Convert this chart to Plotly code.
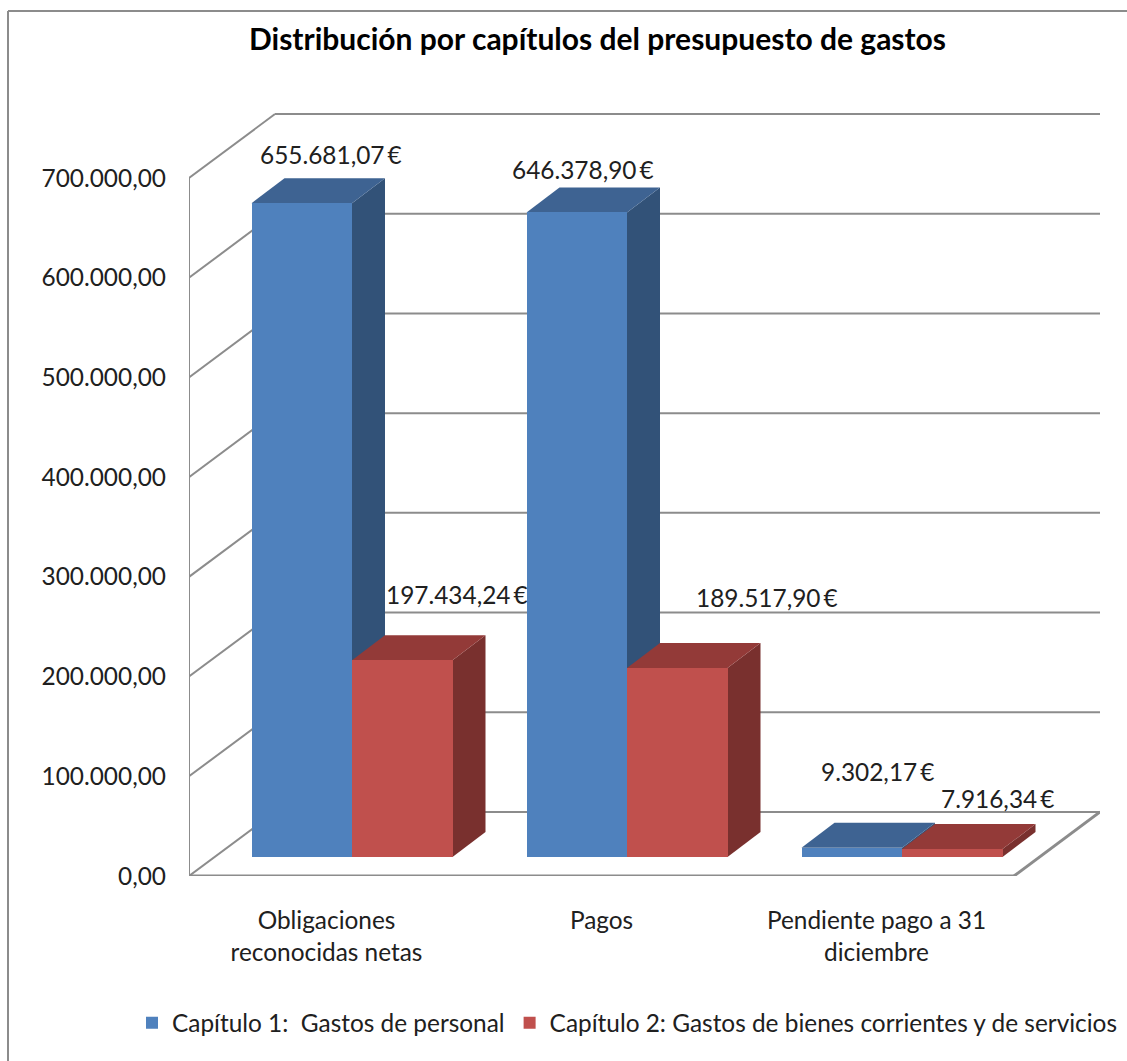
import plotly.graph_objects as go

# ---- data ----
categories = ["Obligaciones<br>reconocidas netas", "Pagos", "Pendiente pago a 31<br>diciembre"]
capitulo1 = [655681.07, 646378.90, 9302.17]
capitulo2 = [197434.24, 189517.90, 7916.34]
labels1 = ["655.681,07\u2009€", "646.378,90\u2009€", "9.302,17\u2009€"]
labels2 = ["197.434,24\u2009€", "189.517,90\u2009€", "7.916,34\u2009€"]
series_names = ["Capítulo 1:  Gastos de personal", "Capítulo 2: Gastos de bienes corrientes y de servicios"]
y_ticks = [0, 100000, 200000, 300000, 400000, 500000, 600000, 700000]
y_ticktext = ["0,00", "100.000,00", "200.000,00", "300.000,00", "400.000,00", "500.000,00", "600.000,00", "700.000,00"]
title_text = "Distribución por capítulos del presupuesto de gastos"

# ---- geometry / style ----
W, H = 1127, 1061
PX_X = 275.0                  # pixels per category
VPP = 700000 / 698.0          # value per pixel
L, R, B, T = 189, 1100, 876, 113
xmin = (L - 326.5) / PX_X
xmax = (R - 326.5) / PX_X
ymax = (B - T) * VPP
def dx(px): return px / PX_X
def dy(px): return px * VPP

FLOOR_DX, FLOOR_DY = dx(86), dy(64)
BAR_W = dx(100.5)
BAR_SHIFT = dx(25.5)
BAR_BASE = dy(19)
DEPTH_X, DEPTH_Y = dx(33), dy(25)
GRID = "#8c8c8c"
FONT = "Lato"
FS = 24.4
TXT = "#202020"
COL1 = dict(front="#4F81BD", side="#325278", top="#3E6392")
COL2 = dict(front="#C0504D", side="#79302E", top="#933A38")

shapes = []
def seg(x0, y0, x1, y1, width=2):
    shapes.append(dict(type="line", xref="x", yref="y", x0=x0, y0=y0, x1=x1, y1=y1,
                       line=dict(color=GRID, width=width), layer="below"))
def poly(pts, color):
    path = "M" + " L".join(f"{x},{y}" for x, y in pts) + " Z"
    shapes.append(dict(type="path", xref="x", yref="y", path=path, fillcolor=color,
                       line=dict(width=0), layer="below"))

# walls and floor
for v in y_ticks:
    seg(xmin, v, xmin + FLOOR_DX, v + FLOOR_DY)
    seg(xmin + FLOOR_DX, v + FLOOR_DY, xmax, v + FLOOR_DY)
seg(xmin, 0, xmin, y_ticks[-1])
seg(xmin, 0, xmax - FLOOR_DX, 0, 3)
seg(xmax - FLOOR_DX, 0, xmax, FLOOR_DY, 3)

# 3-D faces behind the front faces
def faces(lefts, values, col):
    for x0, v in zip(lefts, values):
        x1 = x0 + BAR_W
        top = v + BAR_BASE
        poly([(x1, BAR_BASE), (x1 + DEPTH_X, BAR_BASE + DEPTH_Y), (x1 + DEPTH_X, top + DEPTH_Y), (x1, top)], col["side"])
        poly([(x0, top), (x0 + DEPTH_X, top + DEPTH_Y), (x1 + DEPTH_X, top + DEPTH_Y), (x1, top)], col["top"])

cats = list(range(len(categories)))
left1 = [c + BAR_SHIFT - BAR_W for c in cats]
left2 = [c + BAR_SHIFT for c in cats]
faces(left1, capitulo1, COL1)
faces(left2, capitulo2, COL2)

# chart frame
shapes.append(dict(type="line", xref="paper", yref="paper", x0=8/W, x1=8/W, y0=0, y1=1-11/H,
                   line=dict(color=GRID, width=2)))
shapes.append(dict(type="line", xref="paper", yref="paper", x0=8/W, x1=1, y0=1-11/H, y1=1-11/H,
                   line=dict(color=GRID, width=2)))

fig = go.Figure()
fig.add_bar(x=[l + BAR_W/2 for l in left1], y=capitulo1, base=BAR_BASE, width=BAR_W,
            name=series_names[0], marker=dict(color=COL1["front"], line=dict(width=0)))
fig.add_bar(x=[l + BAR_W/2 for l in left2], y=capitulo2, base=BAR_BASE, width=BAR_W,
            name=series_names[1], marker=dict(color=COL2["front"], line=dict(width=0)))

# data labels: pixel nudges relative to the bar's front top centre
nudge1 = [(29, 49), (6, 43), (26, 76)]
nudge2 = [(55, 66), (90, 71), (45, 51)]
annotations = []
for lefts, vals, labs, nudges in ((left1, capitulo1, labels1, nudge1), (left2, capitulo2, labels2, nudge2)):
    for l, v, t, (nx, ny) in zip(lefts, vals, labs, nudges):
        annotations.append(dict(x=l + BAR_W/2, y=v + BAR_BASE, text=t, showarrow=False, xref="x", yref="y",
                                xshift=nx, yshift=ny, font=dict(family=FONT, size=FS, color=TXT)))

fig.update_layout(
    width=W, height=H, autosize=False, margin=dict(l=0, r=0, t=0, b=0, autoexpand=False),
    paper_bgcolor="white", plot_bgcolor="white", barmode="overlay", bargap=0,
    font=dict(family=FONT, size=FS, color=TXT),
    title=dict(text=f"<b>{title_text}</b>", x=597.5/W, xanchor="center", y=1-39/H, yanchor="middle",
               font=dict(family=FONT, size=30, color="#000000")),
    shapes=shapes, annotations=annotations,
    legend=dict(orientation="h", x=132/W, xanchor="left", y=1-1023/H, yanchor="middle",
                bgcolor="rgba(0,0,0,0)", font=dict(family=FONT, size=FS, color=TXT), traceorder="normal"),
    xaxis=dict(domain=[L/W, R/W], range=[xmin, xmax], tickmode="array", tickvals=cats, ticktext=categories,
               showgrid=False, zeroline=False, showline=False, ticks="", ticklabelstandoff=28),
    yaxis=dict(domain=[1-B/H, 1-T/H], range=[0, ymax], tickmode="array", tickvals=y_ticks, ticktext=y_ticktext,
               showgrid=False, zeroline=False, showline=False, ticks="", ticklabelstandoff=22),
)
fig.write_html("out.html", config={"displayModeBar": False}, post_script="document.body.style.margin='0';")
